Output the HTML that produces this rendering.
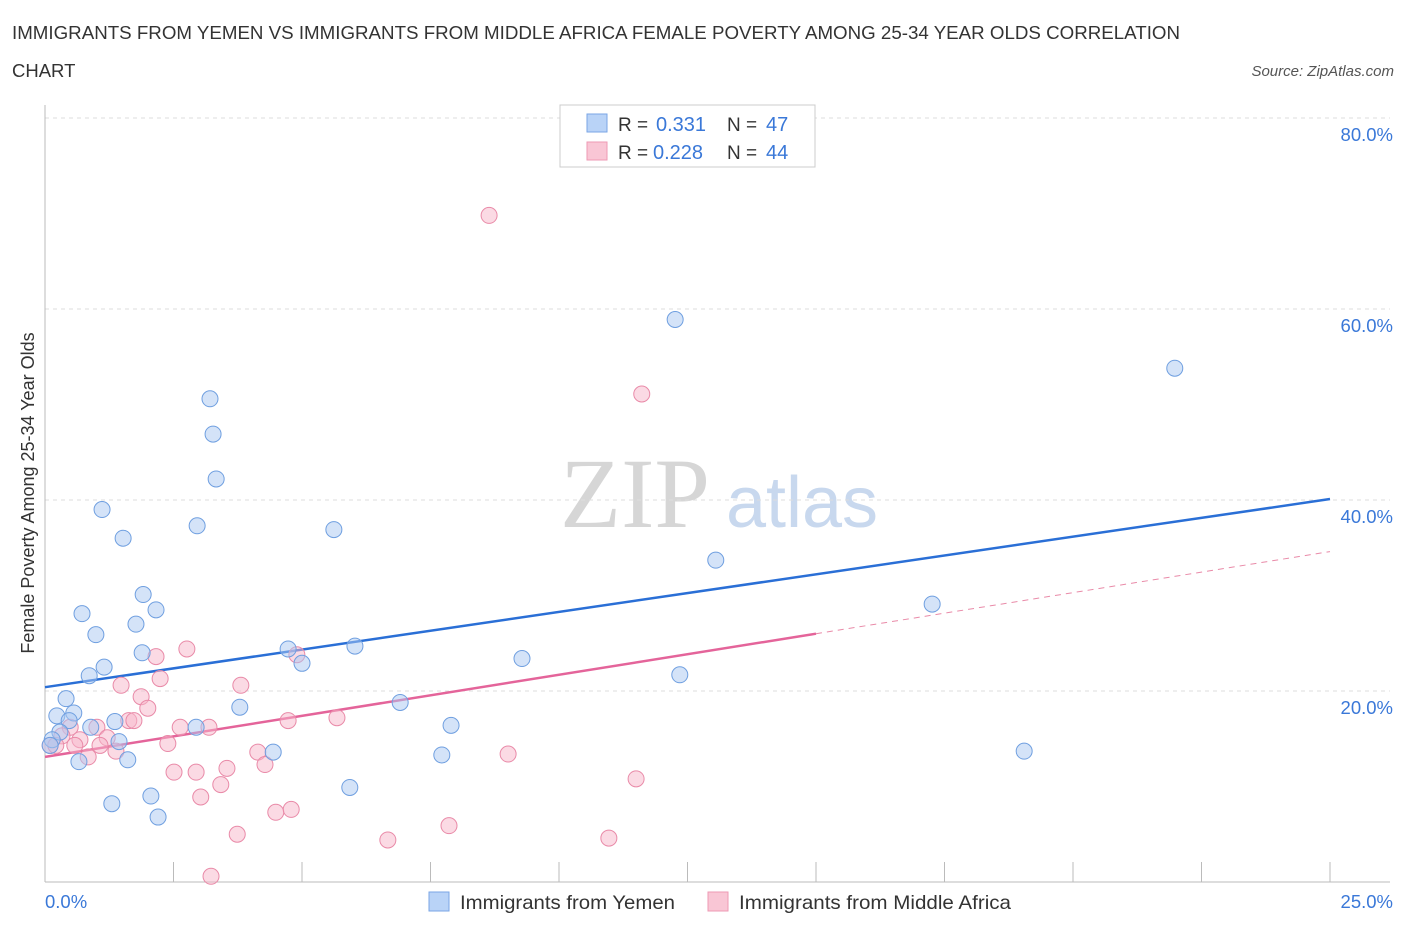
<!DOCTYPE html>
<html><head><meta charset="utf-8">
<style>
body{margin:0;background:#fff;font-family:"Liberation Sans",sans-serif;}
</style></head>
<body>
<svg id="chart" width="1406" height="930" xmlns="http://www.w3.org/2000/svg" font-family="Liberation Sans, sans-serif">
<text x="12" y="39" font-size="18.5" fill="#333" textLength="1168" lengthAdjust="spacingAndGlyphs">IMMIGRANTS FROM YEMEN VS IMMIGRANTS FROM MIDDLE AFRICA FEMALE POVERTY AMONG 25-34 YEAR OLDS CORRELATION</text>
<text x="12" y="77" font-size="18.5" fill="#333">CHART</text>
<text x="1394" y="76" font-size="15" font-style="italic" fill="#555" text-anchor="end">Source: ZipAtlas.com</text>
<text transform="translate(34,493) rotate(-90)" font-size="18" fill="#333" text-anchor="middle">Female Poverty Among 25-34 Year Olds</text>
<g>
<text x="635" y="527" style="font-family:'Liberation Serif',serif;font-size:100px" fill="#d6d6d6" text-anchor="middle">ZIP</text>
<text x="802" y="527" font-size="72" fill="#c8d8ee" text-anchor="middle">atlas</text>
</g>
<g id="grid"></g>
<g id="axes"></g>
<g id="lines"></g>
<g id="points"></g>
<g>
<rect x="560" y="105" width="255" height="62" fill="#fff" stroke="#ccc"/>
<rect x="587" y="114" width="20" height="18" fill="#b9d3f7" stroke="#7aa6e6"/>
<rect x="587" y="142" width="20" height="18" fill="#f9c6d5" stroke="#ee9ab4"/>
<text x="618" y="131" font-size="19" fill="#333">R = </text><text x="656" y="131" font-size="20" fill="#3a78d8">0.331</text>
<text x="727" y="131" font-size="19" fill="#333">N = </text><text x="766" y="131" font-size="20" fill="#3a78d8">47</text>
<text x="618" y="159" font-size="19" fill="#333">R = </text><text x="653" y="159" font-size="20" fill="#3a78d8">0.228</text>
<text x="727" y="159" font-size="19" fill="#333">N = </text><text x="766" y="159" font-size="20" fill="#3a78d8">44</text>
</g>
<g>
<rect x="429" y="892" width="20" height="19" fill="#b9d3f7" stroke="#7aa6e6"/>
<text x="460" y="909" font-size="19.5" fill="#333" textLength="215" lengthAdjust="spacingAndGlyphs">Immigrants from Yemen</text>
<rect x="708" y="892" width="20" height="19" fill="#f9c6d5" stroke="#ee9ab4"/>
<text x="739" y="909" font-size="19.5" fill="#333" textLength="272" lengthAdjust="spacingAndGlyphs">Immigrants from Middle Africa</text>
</g>
</svg>
<script>
const yemenX=[3.21,3.27,3.33,12.26,21.98,1.11,1.52,2.96,5.62,13.05,17.26,1.91,2.16,0.72,1.77,0.99,1.89,4.73,5.0,6.03,9.28,12.35,0.86,1.15,0.41,0.56,0.23,0.47,0.89,1.36,2.94,3.79,6.91,7.9,0.29,0.14,1.44,1.61,0.66,4.44,7.72,19.05,1.3,2.06,2.2,5.93,0.1];
const yemenY=[50.6,46.9,42.2,58.9,53.8,39.0,36.0,37.3,36.9,33.7,29.1,30.1,28.5,28.1,27.0,25.9,24.0,24.4,22.9,24.7,23.4,21.7,21.6,22.5,19.2,17.7,17.4,16.9,16.2,16.8,16.2,18.3,18.8,16.4,15.7,14.9,14.7,12.8,12.6,13.6,13.3,13.7,8.2,9.0,6.8,9.9,14.3];
const africaX=[8.64,11.61,2.76,2.16,2.24,1.48,3.81,1.87,2.0,1.63,1.73,4.9,4.73,5.68,2.63,3.19,1.01,0.49,0.33,0.68,1.21,0.1,2.39,1.38,0.84,4.14,4.28,9.01,2.51,2.94,3.54,3.42,11.5,3.03,3.74,4.49,4.79,6.67,7.86,10.97,3.23,0.21,0.58,1.07];
const africaY=[69.8,51.1,24.4,23.6,21.3,20.6,20.6,19.4,18.2,16.9,16.9,23.8,16.9,17.2,16.2,16.2,16.2,16.2,15.3,14.9,15.1,14.3,14.5,13.7,13.1,13.6,12.3,13.4,11.5,11.5,11.9,10.2,10.8,8.9,5.0,7.3,7.6,4.4,5.9,4.6,0.6,14.3,14.3,14.3];
const yTicks=[20,40,60,80];
const yTickLabels=["20.0%","40.0%","60.0%","80.0%"];
const xTickVals=[0,2.5,5,7.5,10,12.5,15,17.5,20,22.5,25];
const yemenTrend=[20.4,40.1];
const africaTrend=[13.1,34.6];
const africaSolidEnd=15;

const NS="http://www.w3.org/2000/svg";
const X=v=>45+v/25*1285;
const Y=v=>882-v*9.55;
function mk(tag,attrs,parent){const e=document.createElementNS(NS,tag);for(const k in attrs)e.setAttribute(k,attrs[k]);parent.appendChild(e);return e;}
const grid=document.getElementById('grid'),axes=document.getElementById('axes'),lines=document.getElementById('lines'),pts=document.getElementById('points');
yTicks.forEach((t,i)=>{
 const l=mk('line',{x1:45,x2:1390,y1:Y(t),y2:Y(t),stroke:'#ddd','stroke-dasharray':'4,4'},grid);
 
 
 const tx=mk('text',{x:1393,y:Y(t)+23,'font-size':18.5,fill:'#3a78d8','text-anchor':'end'},grid);
 tx.textContent=yTickLabels[i];
 
 
});
let a=mk('line',{x1:45,x2:45,y1:105,y2:882,stroke:'#bbb'},axes);


a=mk('line',{x1:45,x2:1390,y1:882,y2:882,stroke:'#bbb'},axes);


xTickVals.forEach(v=>{
 const t=mk('line',{x1:X(v),x2:X(v),y1:862,y2:882,stroke:'#bbb'},axes);
 
 
});
let xl=mk('text',{x:45,y:908,'font-size':18.5,fill:'#3a78d8'},axes);xl.textContent='0.0%';


xl=mk('text',{x:1393,y:908,'font-size':18.5,fill:'#3a78d8','text-anchor':'end'},axes);xl.textContent='25.0%';



function drawPts(xs,ys,fill,stroke,name){
 xs.forEach((x,i)=>{
  const c=mk('circle',{cx:X(x),cy:Y(ys[i]),r:8,fill:fill,'fill-opacity':0.5,stroke:stroke,'stroke-width':1},pts);
  
  
 });
}
drawPts(africaX,africaY,'#f7b6ca','#e98aa8','point-middle-africa');
drawPts(yemenX,yemenY,'#a9c8f2','#6f9fe0','point-yemen');

let ln=mk('line',{x1:X(0),y1:Y(yemenTrend[0]),x2:X(25),y2:Y(yemenTrend[1]),stroke:'#2a6fd6','stroke-width':2.5},lines);


const ay=v=>africaTrend[0]+(africaTrend[1]-africaTrend[0])*v/25;
ln=mk('line',{x1:X(0),y1:Y(ay(0)),x2:X(africaSolidEnd),y2:Y(ay(africaSolidEnd)),stroke:'#e4649a','stroke-width':2.5},lines);


ln=mk('line',{x1:X(africaSolidEnd),y1:Y(ay(africaSolidEnd)),x2:X(25),y2:Y(ay(25)),stroke:'#e98aa8','stroke-width':1,'stroke-dasharray':'6,5'},lines);


</script>
</body></html>
